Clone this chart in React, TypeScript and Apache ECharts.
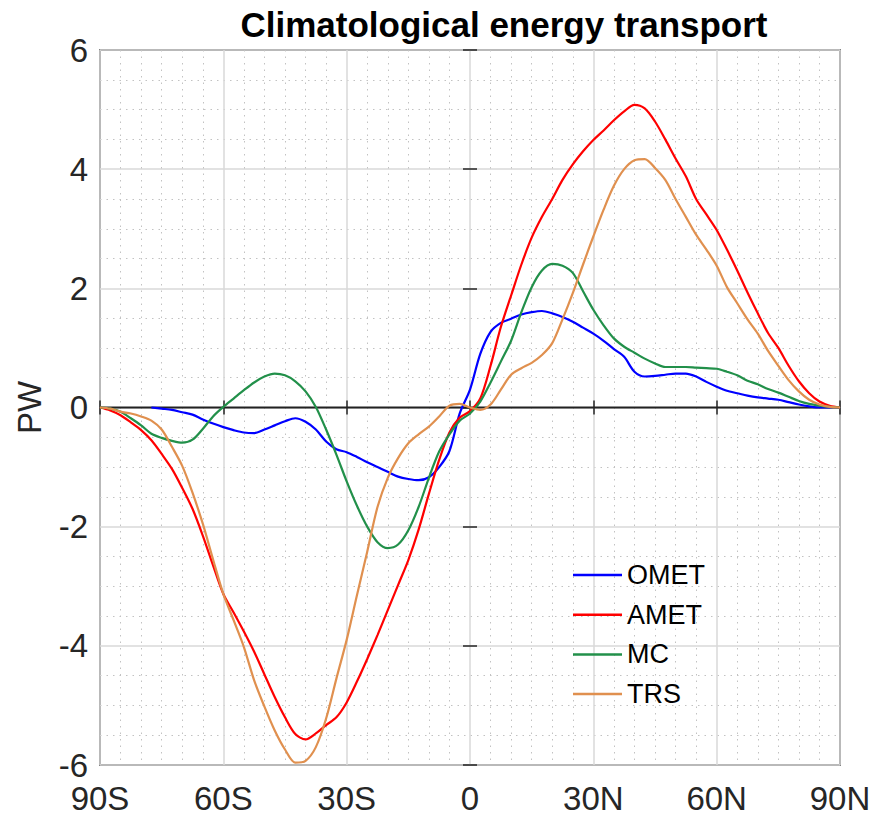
import React, { useEffect, useRef } from "react";
import * as echarts from "echarts";

const latitudes: number[] = [
  -90, -87.5, -85, -82.5, -80, -77.5, -75, -72.5, -70, -67.5, -65, -62.5, -60, -57.5, -55, -52.5, -50,
  -47.5, -45, -42.5, -40, -37.5, -35, -32.5, -30, -27.5, -25, -22.5, -20, -17.5, -15, -12.5, -10, -7.5,
  -5, -2.5, 0, 2.5, 5, 7.5, 10, 12.5, 15, 17.5, 20, 22.5, 25, 27.5, 30, 32.5, 35, 37.5, 40, 42.5, 45,
  47.5, 50, 52.5, 55, 57.5, 60, 62.5, 65, 67.5, 70, 72.5, 75, 77.5, 80, 82.5, 85, 87.5, 90,
];

const omet: (number | null)[] = [
  null, null, null, null, null, 0, -0.02, -0.04, -0.08, -0.12, -0.2, -0.27, -0.33, -0.38, -0.42, -0.43, -0.37,
  -0.3, -0.23, -0.18, -0.24, -0.37, -0.57, -0.7, -0.75, -0.83, -0.92, -1.0, -1.08, -1.16, -1.2, -1.22, -1.17, -1.0,
  -0.73, -0.1, 0.3, 0.9, 1.27, 1.42, 1.49, 1.56, 1.6, 1.62, 1.58, 1.52, 1.44, 1.34, 1.24, 1.12, 0.98, 0.85, 0.6, 0.52, 0.53,
  0.55, 0.57, 0.57, 0.52, 0.43, 0.35, 0.28, 0.24, 0.2, 0.17, 0.15, 0.13, 0.09, 0.05, 0.02, 0.0, 0, 0,
];

const amet: number[] = [
  0, -0.05, -0.13, -0.25, -0.38, -0.55, -0.78, -1.03, -1.35, -1.7, -2.15, -2.65, -3.13, -3.44, -3.76, -4.1, -4.48,
  -4.86, -5.2, -5.48, -5.57, -5.47, -5.33, -5.2, -4.95, -4.6, -4.22, -3.82, -3.4, -2.98, -2.56, -2.05, -1.45, -0.88,
  -0.42, -0.17, -0.06, 0.15, 0.7, 1.35, 1.88, 2.4, 2.85, 3.2, 3.5, 3.82, 4.08, 4.3, 4.49, 4.65, 4.82, 4.97, 5.08, 5.02, 4.8,
  4.5, 4.18, 3.88, 3.5, 3.24, 2.98, 2.65, 2.3, 1.93, 1.58, 1.25, 1.0, 0.7, 0.44, 0.24, 0.1, 0.03, 0,
];

const mc: number[] = [
  0, -0.02, -0.07, -0.18, -0.3, -0.44, -0.51, -0.56, -0.59, -0.54, -0.36, -0.15, 0.01, 0.15, 0.29, 0.42, 0.52,
  0.57, 0.54, 0.44, 0.27, 0.01, -0.37, -0.79, -1.24, -1.65, -2.0, -2.26, -2.36, -2.3, -2.06, -1.67, -1.18, -0.74,
  -0.45, -0.22, -0.1, 0.1, 0.42, 0.77, 1.12, 1.6, 2.02, 2.3, 2.41, 2.38, 2.26, 1.95, 1.64, 1.38, 1.16, 1.02, 0.92, 0.82, 0.74,
  0.68, 0.68, 0.68, 0.67, 0.66, 0.65, 0.6, 0.54, 0.45, 0.39, 0.31, 0.25, 0.18, 0.11, 0.06, 0.03, 0.01, 0,
];

const trs: number[] = [
  0, -0.02, -0.07, -0.1, -0.15, -0.22, -0.37, -0.66, -0.98, -1.43, -1.95, -2.55, -3.13, -3.57, -4.02, -4.58, -5.02,
  -5.42, -5.74, -5.96, -5.93, -5.7, -5.22, -4.55, -3.9, -3.15, -2.42, -1.67, -1.18, -0.85, -0.6, -0.45, -0.32, -0.15,
  0.03, 0.06, 0.0, -0.04, 0.05, 0.3, 0.55, 0.66, 0.75, 0.88, 1.08, 1.48, 1.92, 2.4, 2.87, 3.32, 3.72, 4.0, 4.15, 4.17, 4.02,
  3.82, 3.5, 3.2, 2.9, 2.65, 2.38, 2.02, 1.75, 1.48, 1.24, 0.95, 0.7, 0.46, 0.27, 0.13, 0.05, 0.01, 0,
];

const seriesNames: string[] = ["OMET", "AMET", "MC", "TRS"];
const seriesColors: string[] = ["#0000ff", "#ff0000", "#22904a", "#e0904f"];
const xTicks: number[] = [-90, -60, -30, 0, 30, 60, 90];
const yTicks: number[] = [-6, -4, -2, 0, 2, 4, 6];

const FONT = "'Liberation Sans', Arial, Helvetica, sans-serif";
const TXT = "#262626";

function latLabel(v: number): string {
  if (v < 0) return `${-v}S`;
  if (v > 0) return `${v}N`;
  return "0";
}

export default function App() {
  const ref = useRef<HTMLDivElement>(null);
  useEffect(() => {
    if (!ref.current) return;
    const chart = echarts.init(ref.current, null, { renderer: "svg" });
    const allSeries = [omet, amet, mc, trs];
    const lineSeries = seriesNames.map((name, i) => ({
      name,
      type: "line",
      data: latitudes.map((lat, j) => [lat, allSeries[i][j]]),
      showSymbol: false,
      symbol: "none",
      smooth: 0.3,
      connectNulls: false,
      lineStyle: { color: seriesColors[i], width: 2.2 },
      itemStyle: { color: seriesColors[i] },
      z: 3,
    }));
    const xMin = xTicks[0];
    const xMax = xTicks[xTicks.length - 1];
    const yMin = yTicks[0];
    const yMax = yTicks[yTicks.length - 1];
    chart.setOption({
      animation: false,
      backgroundColor: "#ffffff",
      title: {
        text: "Climatological energy transport",
        left: 499,
        textAlign: "center",
        top: 2,
        textStyle: { fontFamily: FONT, fontWeight: "bold", fontSize: 35, color: "#000" },
      },
      grid: {
        left: 100,
        right: 35,
        top: 50,
        bottom: 53,
        show: true,
        borderColor: TXT,
        borderWidth: 1.5,
        backgroundColor: "transparent",
      },
      legend: {
        data: seriesNames,
        orient: "vertical",
        left: 568,
        top: 555,
        icon: "rect",
        itemWidth: 49,
        itemHeight: 2.5,
        itemGap: 9.7,
        textStyle: { fontFamily: FONT, fontSize: 27, color: "#000", lineHeight: 30 },
      },
      xAxis: [
        {
          type: "value",
          min: xMin,
          max: xMax,
          interval: 30,
          axisLine: { show: false },
          axisTick: { show: true, inside: true, length: 7, lineStyle: { color: TXT, width: 1.5 } },
          minorTick: { show: false, splitNumber: 6 },
          axisLabel: {
            formatter: (v: number) => latLabel(v),
            fontFamily: FONT,
            fontSize: 33,
            color: TXT,
            margin: 17,
          },
          splitLine: { show: true, lineStyle: { color: "#d9d9d9", width: 1.5 } },
          minorSplitLine: { show: true, lineStyle: { color: "#c2c2c2", width: 1, type: [1.5, 5] } },
        },
        {
          type: "value",
          position: "top",
          min: xMin,
          max: xMax,
          interval: 30,
          axisLine: { show: false },
          axisTick: { show: true, inside: true, length: 7, lineStyle: { color: TXT, width: 1.5 } },
          axisLabel: { show: false },
          splitLine: { show: false },
        },
      ],
      yAxis: [
        {
          type: "value",
          min: yMin,
          max: yMax,
          interval: 2,
          name: "PW",
          nameLocation: "middle",
          nameGap: 54,
          nameRotate: 90,
          nameTextStyle: { fontFamily: FONT, fontSize: 33, color: TXT },
          axisLine: { show: false },
          axisTick: { show: true, inside: true, length: 7, lineStyle: { color: TXT, width: 1.5 } },
          minorTick: { show: false, splitNumber: 4 },
          axisLabel: { fontFamily: FONT, fontSize: 33, color: TXT, margin: 12 },
          splitLine: { show: true, lineStyle: { color: "#d9d9d9", width: 1.5 } },
          minorSplitLine: { show: true, lineStyle: { color: "#c2c2c2", width: 1, type: [1.5, 5] } },
        },
        {
          type: "value",
          position: "right",
          min: yMin,
          max: yMax,
          interval: 2,
          axisLine: { show: false },
          axisTick: { show: true, inside: true, length: 7, lineStyle: { color: TXT, width: 1.5 } },
          axisLabel: { show: false },
          splitLine: { show: false },
        },
      ],
      series: [
        {
          name: "zero",
          type: "line",
          data: [
            [xMin, 0],
            [xMax, 0],
          ],
          showSymbol: false,
          symbol: "none",
          silent: true,
          lineStyle: { color: "#222222", width: 1.8 },
          z: 2,
        },
        ...lineSeries,
      ],
    });
    return () => chart.dispose();
  }, []);
  return (
    <div
      ref={ref}
      style={{ position: "fixed", left: 0, top: 0, width: 875, height: 818, background: "#fff" }}
    />
  );
}
